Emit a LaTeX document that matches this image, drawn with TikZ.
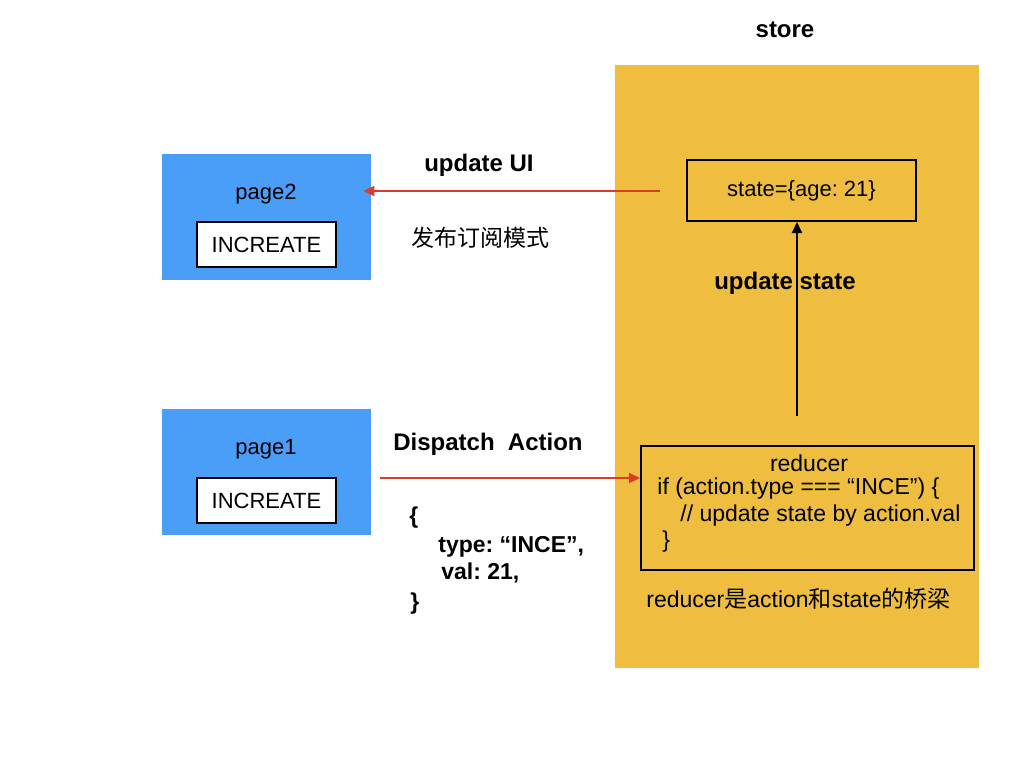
\documentclass[tikz,border=0pt]{standalone}
\usepackage{fontspec}
\setmainfont{Liberation Sans}
\newfontfamily\cjkfont{Noto Sans CJK SC}
\usetikzlibrary{arrows.meta,positioning}
\definecolor{storeyellow}{RGB}{239,189,64}
\definecolor{pageblue}{RGB}{74,158,247}
\definecolor{msgred}{RGB}{221,58,40}
\frenchspacing

\begin{document}
\begin{tikzpicture}[x=.5pt,y=-.5pt,font=\fontsize{11}{13}\selectfont,
page/.style={fill=pageblue,minimum width=104.5pt,minimum height=63pt,inner sep=0pt},
btn/.style={draw=black,line width=1pt,fill=white,minimum width=69.5pt,minimum height=22.5pt,inner sep=0pt},
frame/.style={draw=black,line width=1pt,inner sep=0pt},
lbl/.style={font=\fontsize{12}{14}\selectfont\bfseries},
code/.style={anchor=west,inner sep=0pt,font=\fontsize{11.5}{13}\selectfont},
msg/.style={code,font=\fontsize{11.5}{13}\selectfont\bfseries},
req/.style={-{Triangle[length=5.5pt,width=5pt]},line width=1pt,draw=msgred},
upd/.style={-{Triangle[length=5.5pt,width=5pt]},line width=1pt,draw=black}]

\useasboundingbox[fill=white](0,0)rectangle(1024,768);
% store
\node[fill=storeyellow,minimum width=182pt,minimum height=301.5pt,inner sep=0pt](store)at(797,366.5){};
\node[lbl]at(785,30){store};
\node[frame,minimum width=114.5pt,minimum height=30.5pt](state)at(801.5,190.5){state=\{age: 21\}};
\node[frame,minimum width=166.5pt,minimum height=62pt](reducer)at(807.5,508){};
\node[font=\fontsize{11.5}{13}\selectfont]at(809,463){reducer};
\node[code]at(657,489){if (action.type === “INCE”) \{};
\node[code]at(680,516){// update state by action.val};
\node[code]at(662,542){\}};
\node[code]at(646,599){reducer{\cjkfont 是}action{\cjkfont 和}state{\cjkfont 的桥梁}};
% pages
\node[page](page2)at(266.5,217){};
\node at(266,194){page2};
\node[btn](btn2)at(266.5,244.5){INCREATE};
\node[page](page1)at(266.5,472){};
\node at(266,449){page1};
\node[btn](btn1)at(266.5,500.5){INCREATE};
% messages
\coordinate(uiFrom)at(660,191);
\draw[req,shorten >=-4pt](uiFrom)--(uiFrom-|page2.east);
\node[lbl]at(479,165){update UI};
\node[font=\fontsize{11.5}{13}\selectfont\cjkfont]at(480,238){发布订阅模式};
\coordinate(actFrom)at(380,478);
\draw[req](actFrom)--(actFrom-|reducer.west);
\node[lbl]at(488,444){Dispatch~~Action};
\node[msg]at(409,518){\{};
\node[msg]at(438,547){type: “INCE”,};
\node[msg]at(441,573){val: 21,};
\node[msg]at(410,604){\}};
\coordinate(stFrom)at(797,416);
\draw[upd](stFrom)--(stFrom|-state.south);
\node[lbl]at(785,283){update state};
\end{tikzpicture}
\end{document}
